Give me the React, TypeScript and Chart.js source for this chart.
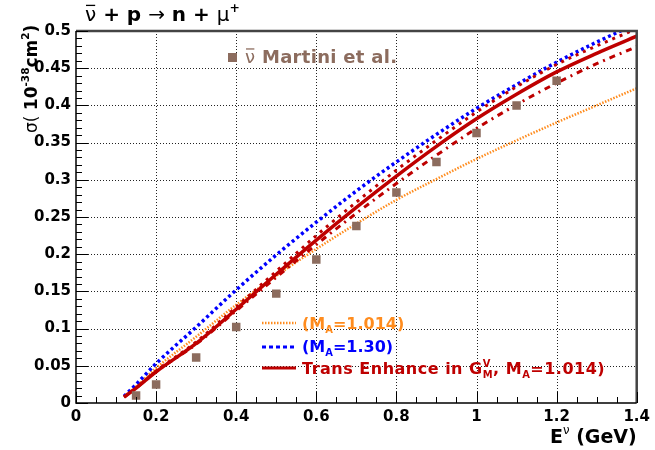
import { useEffect, useRef } from 'react';
import { Chart, registerables } from 'chart.js';
Chart.register(...registerables);

// Neutrino energy grid (GeV) for the model curves
const curveE = [0.12, 0.15, 0.2, 0.3, 0.4, 0.5, 0.6, 0.7, 0.8, 0.9, 1.0, 1.1, 1.2, 1.3, 1.4];
// Cross sections (10^-38 cm^2)
const orangeMA1014 = [0.009, 0.022, 0.047, 0.089, 0.132, 0.171, 0.207, 0.241, 0.273, 0.301, 0.328, 0.353, 0.377, 0.400, 0.423];
const blueMA130 = [0.009, 0.025, 0.053, 0.102, 0.152, 0.199, 0.243, 0.285, 0.324, 0.361, 0.396, 0.428, 0.458, 0.485, 0.510];
const redTransEnh = [0.008, 0.020, 0.042, 0.080, 0.126, 0.173, 0.219, 0.263, 0.305, 0.345, 0.382, 0.415, 0.445, 0.470, 0.493];
const redUpper = [0.008, 0.020, 0.043, 0.082, 0.129, 0.177, 0.225, 0.270, 0.313, 0.353, 0.391, 0.425, 0.455, 0.480, 0.503];
const redLower = [0.008, 0.020, 0.042, 0.079, 0.124, 0.169, 0.213, 0.255, 0.295, 0.333, 0.369, 0.401, 0.430, 0.456, 0.479];

// Martini et al. points
const martiniE = [0.15, 0.2, 0.3, 0.4, 0.5, 0.6, 0.7, 0.8, 0.9, 1.0, 1.1, 1.2];
const martiniSigma = [0.010, 0.025, 0.061, 0.102, 0.147, 0.193, 0.238, 0.283, 0.324, 0.363, 0.400, 0.433];

const xTicks = [0, 0.2, 0.4, 0.6, 0.8, 1.0, 1.2, 1.4];
const yTicks = [0, 0.05, 0.1, 0.15, 0.2, 0.25, 0.3, 0.35, 0.4, 0.45, 0.5];

const ORANGE = 'rgb(255,140,30)';
const BLUE = 'rgb(0,0,255)';
const RED = 'rgb(190,0,0)';
const BROWN = 'rgb(140,108,94)';
const FONT = '"DejaVu Sans"';

type Seg = { t: string; k?: 'sup' | 'sub'; thin?: boolean; noAdv?: boolean; bar?: boolean };

function rich(ctx: CanvasRenderingContext2D, x: number, y: number, segs: Seg[], size: number, color: string, spacing = 0) {
  let cx = x;
  ctx.fillStyle = color;
  ctx.textBaseline = 'alphabetic';
  ctx.textAlign = 'left';
  (ctx as any).letterSpacing = `${spacing}px`;
  for (const s of segs) {
    const fs = s.k ? size * 0.62 : size;
    ctx.font = `${s.thin ? 'normal' : 'bold'} ${fs}px ${FONT}`;
    const dy = s.k === 'sup' ? -size * 0.45 : s.k === 'sub' ? size * 0.28 : 0;
    ctx.fillText(s.t, cx, y + dy);
    const w = ctx.measureText(s.t).width;
    if (s.bar) {
      ctx.save();
      ctx.strokeStyle = color;
      ctx.lineWidth = 1.3;
      ctx.beginPath();
      ctx.moveTo(cx + 1, y - size * 0.78);
      ctx.lineTo(cx + w - 1, y - size * 0.78);
      ctx.stroke();
      ctx.restore();
    }
    if (!s.noAdv) cx += w;
  }
  (ctx as any).letterSpacing = '0px';
}

const overlay = {
  id: 'overlay',
  beforeDatasetsDraw(chart: any) {
    const { ctx, chartArea: a, scales } = chart;
    ctx.save();
    ctx.strokeStyle = '#222';
    ctx.lineWidth = 1;
    ctx.setLineDash([1, 2]);
    for (const v of xTicks.slice(1, -1)) {
      const px = Math.round(scales.x.getPixelForValue(v)) + 0.5;
      ctx.beginPath(); ctx.moveTo(px, a.top); ctx.lineTo(px, a.bottom); ctx.stroke();
    }
    for (const v of yTicks.slice(1, -1)) {
      const py = Math.round(scales.y.getPixelForValue(v)) + 0.5;
      ctx.beginPath(); ctx.moveTo(a.left, py); ctx.lineTo(a.right, py); ctx.stroke();
    }
    ctx.restore();
  },
  afterDatasetsDraw(chart: any) {
    const { ctx, chartArea: a, scales } = chart;
    ctx.save();
    // frame top/right
    ctx.strokeStyle = '#444';
    ctx.lineWidth = 2.5;
    ctx.beginPath(); ctx.moveTo(a.left, a.top); ctx.lineTo(a.right, a.top); ctx.lineTo(a.right, a.bottom); ctx.stroke();
    // axes
    ctx.strokeStyle = '#000';
    ctx.lineWidth = 1.5;
    ctx.beginPath(); ctx.moveTo(a.left, a.top); ctx.lineTo(a.left, a.bottom); ctx.lineTo(a.right, a.bottom); ctx.stroke();
    // ticks
    ctx.lineWidth = 1;
    for (let i = 0; i <= 28; i++) {
      const v = i * 0.05;
      const px = Math.round(scales.x.getPixelForValue(v)) + 0.5;
      const len = i % 4 === 0 ? 11 : 6;
      ctx.beginPath(); ctx.moveTo(px, a.bottom); ctx.lineTo(px, a.bottom - len); ctx.stroke();
    }
    for (let i = 0; i <= 50; i++) {
      const v = i * 0.01;
      const py = Math.round(scales.y.getPixelForValue(v)) + 0.5;
      const len = i % 5 === 0 ? 12 : 6;
      ctx.beginPath(); ctx.moveTo(a.left, py); ctx.lineTo(a.left + len, py); ctx.stroke();
    }

    // title
    rich(ctx, 85, 21, [
      { t: 'ν', thin: true, bar: true }, { t: ' + p ' }, { t: '→', thin: true }, { t: ' n + ' }, { t: 'μ', thin: true }, { t: '+', k: 'sup' },
    ], 20, '#000');

    // x title
    rich(ctx, 550, 443, [{ t: 'E' }, { t: 'ν', k: 'sup', thin: true }, { t: ' (GeV)' }], 19, '#000');

    // y title (rotated)
    ctx.save();
    ctx.translate(37, 133);
    ctx.rotate(-Math.PI / 2);
    rich(ctx, 0, 0, [
      { t: 'σ', thin: true }, { t: '( ', thin: true }, { t: '10' }, { t: '-38', k: 'sup' }, { t: 'cm' }, { t: '2', k: 'sup' }, { t: ')' },
    ], 17, '#000');
    ctx.restore();

    // Martini legend
    ctx.fillStyle = BROWN;
    ctx.fillRect(228, 53, 9, 9);
    rich(ctx, 245, 63, [{ t: 'ν', thin: true, bar: true }, { t: ' Martini et al.' }], 18, BROWN, 0.3);

    // curve legend
    const lx0 = 262, lx1 = 296;
    ctx.lineWidth = 2.5; ctx.strokeStyle = ORANGE; ctx.setLineDash([1.5, 1.5]);
    ctx.beginPath(); ctx.moveTo(lx0, 323); ctx.lineTo(lx1, 323); ctx.stroke();
    ctx.lineWidth = 3; ctx.strokeStyle = BLUE; ctx.setLineDash([4, 3]);
    ctx.beginPath(); ctx.moveTo(lx0, 347); ctx.lineTo(lx1, 347); ctx.stroke();
    ctx.lineWidth = 3; ctx.strokeStyle = RED; ctx.setLineDash([]);
    ctx.beginPath(); ctx.moveTo(lx0, 368); ctx.lineTo(lx1, 368); ctx.stroke();

    rich(ctx, 302, 329, [{ t: '(M' }, { t: 'A', k: 'sub' }, { t: '=1.014)' }], 16, ORANGE);
    rich(ctx, 302, 352, [{ t: '(M' }, { t: 'A', k: 'sub' }, { t: '=1.30)' }], 16, BLUE);
    rich(ctx, 302, 374, [
      { t: 'Trans Enhance in G' }, { t: 'V', k: 'sup', noAdv: true }, { t: 'M', k: 'sub' }, { t: ', M' }, { t: 'A', k: 'sub' }, { t: '=1.014)' },
    ], 16, RED, 0.5);
    ctx.restore();
  },
};

function pts(xs: number[], ys: number[]) {
  return xs.map((x, i) => ({ x, y: ys[i] }));
}

export default function App() {
  const ref = useRef<HTMLCanvasElement>(null);
  useEffect(() => {
    document.body.style.margin = '0';
    const line = (data: any, color: string, width: number, dash: number[]) => ({
      type: 'line' as const,
      data,
      borderColor: color,
      backgroundColor: color,
      borderWidth: width,
      borderDash: dash,
      pointRadius: 0,
      cubicInterpolationMode: 'monotone' as const,
      fill: false,
    });
    const chart = new Chart(ref.current!, {
      type: 'line',
      data: {
        datasets: [
          {
            type: 'scatter' as any,
            data: pts(martiniE, martiniSigma),
            pointStyle: 'rect',
            pointRadius: 6,
            backgroundColor: BROWN,
            borderColor: BROWN,
            borderWidth: 0,
            showLine: false,
          } as any,
          line(pts(curveE, redTransEnh), RED, 3.5, []),
          line(pts(curveE, redUpper), RED, 3, [3, 5]),
          line(pts(curveE, redLower), RED, 3, [6, 5, 2, 5]),
          line(pts(curveE, blueMA130), BLUE, 3.5, [3, 3]),
          line(pts(curveE, orangeMA1014), ORANGE, 2.5, [1.5, 1.5]),
        ],
      },
      options: {
        responsive: false,
        animation: false,
        layout: { padding: { top: 31, right: 14, left: 0, bottom: 0 } },
        plugins: { legend: { display: false }, tooltip: { enabled: false }, title: { display: false } },
        scales: {
          x: {
            type: 'linear',
            min: 0,
            max: 1.4,
            grid: { display: false, drawTicks: false },
            border: { display: false },
            ticks: {
              stepSize: 0.2,
              padding: 5,
              autoSkip: false,
              maxRotation: 0,
              color: '#000',
              font: { family: FONT, weight: 'bold', size: 15 },
              callback: (v: any) => String(Number(Number(v).toFixed(1))),
            },
            afterFit: (s: any) => { s.height = 47; },
          },
          y: {
            type: 'linear',
            min: 0,
            max: 0.5,
            grid: { display: false, drawTicks: false },
            border: { display: false },
            ticks: {
              stepSize: 0.05,
              padding: 5,
              autoSkip: false,
              color: '#000',
              font: { family: FONT, weight: 'bold', size: 15 },
              callback: (v: any) => String(Number(Number(v).toFixed(2))),
            },
            afterFit: (s: any) => { s.width = 76; },
          },
        },
      },
      plugins: [overlay],
    });
    return () => chart.destroy();
  }, []);
  return <canvas ref={ref} width={655} height={450} style={{ display: 'block' }} />;
}
